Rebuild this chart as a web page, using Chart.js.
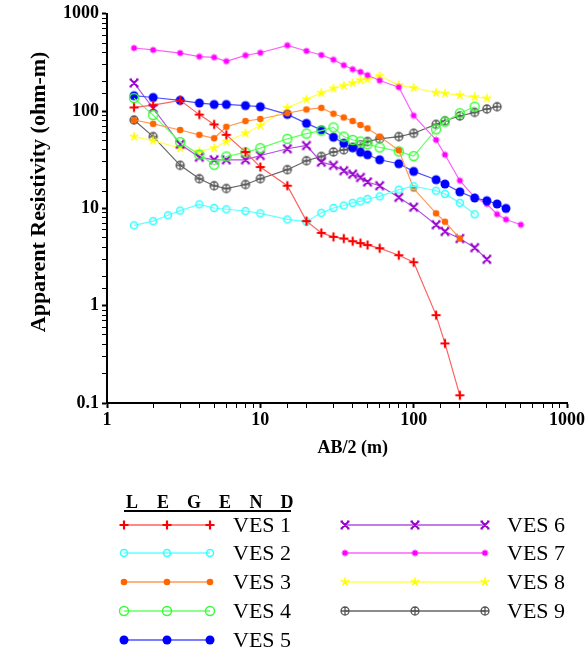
<!DOCTYPE html>
<html>
<head>
<meta charset="utf-8">
<script src="https://cdn.jsdelivr.net/npm/chart.js@4.4.0/dist/chart.umd.min.js"></script>
<style>
  html, body { margin: 0; padding: 0; background: #fff; }
  #wrap { width: 587px; height: 651px; position: relative; }
</style>
</head>
<body>
<div id="wrap"><canvas id="myChart"></canvas></div>
<script>
// AB/2 spacings (m) and apparent resistivity (ohm-m)
const ves1X = [1.5, 2, 3, 4, 5, 6, 8, 10, 15, 20, 25, 30, 35, 40, 45, 50, 60, 80, 100, 140, 160, 200];
const ves1Y = [109, 115, 129, 92, 73, 57, 38, 26.6, 17.1, 7.4, 5.6, 5.1, 4.9, 4.6, 4.4, 4.2, 3.9, 3.3, 2.8, 0.80, 0.41, 0.12];

const ves2X = [1.5, 2, 2.5, 3, 4, 5, 6, 8, 10, 15, 20, 25, 30, 35, 40, 45, 50, 60, 80, 100, 140, 160, 200, 250];
const ves2Y = [6.7, 7.4, 8.5, 9.5, 11, 10.1, 9.8, 9.4, 8.9, 7.7, 7.3, 9.0, 10.1, 10.7, 11.4, 11.8, 12.5, 13.3, 15.6, 16.9, 15.2, 14.1, 11.4, 8.7];

const ves3X = [1.5, 2, 3, 4, 5, 6, 8, 10, 15, 20, 25, 30, 35, 40, 45, 50, 60, 80, 100, 140, 160, 200];
const ves3Y = [81, 74, 64, 57, 52.6, 69, 79, 83, 95, 104, 108, 94, 86, 79, 72, 66.5, 54.7, 39.5, 16, 8.9, 7.3, 4.9];

const ves4X = [1.5, 2, 3, 4, 5, 6, 8, 10, 15, 20, 25, 30, 35, 40, 45, 50, 60, 80, 100, 140, 160, 200, 250];
const ves4Y = [136, 91, 48, 35.6, 28.1, 34.2, 37.6, 41.6, 51.9, 58.7, 63, 68, 54.7, 50.6, 48.7, 45.7, 42.3, 38.5, 34.5, 65, 78, 95, 111];

const ves5X = [1.5, 2, 3, 4, 5, 6, 8, 10, 15, 20, 25, 30, 35, 40, 45, 50, 60, 80, 100, 140, 160, 200, 250, 300, 350, 400];
const ves5Y = [144, 138, 129, 121, 117, 117, 114, 111, 92.5, 74.8, 64.1, 53.9, 46.8, 42.2, 37.8, 35.6, 31.6, 28.8, 24, 19.7, 17.8, 14.8, 12.8, 12.0, 11.1, 10.0];

const ves6X = [1.5, 2, 3, 4, 5, 6, 8, 10, 15, 20, 25, 30, 35, 40, 45, 50, 60, 80, 100, 140, 160, 200, 250, 300];
const ves6Y = [195, 107, 45.7, 33.6, 31.6, 31.6, 31.6, 35, 41, 44.3, 29.9, 27.7, 24.4, 22.5, 20.8, 18.7, 17.1, 13.0, 10.3, 6.8, 5.8, 4.9, 3.95, 3.0];

const ves7X = [1.5, 2, 3, 4, 5, 6, 8, 10, 15, 20, 25, 30, 35, 40, 45, 50, 60, 80, 100, 140, 160, 200, 250, 300, 350, 400, 500];
const ves7Y = [445, 425, 395, 363, 357, 325, 374, 398, 474, 415, 377, 338, 296, 269, 253, 234, 206, 176, 90, 50.6, 35.6, 19.3, 13.0, 11.1, 8.7, 7.7, 6.8];

const ves8X = [1.5, 2, 3, 4, 5, 6, 8, 10, 15, 20, 25, 30, 35, 40, 45, 50, 60, 80, 100, 140, 160, 200, 250, 300];
const ves8Y = [54.7, 49.8, 41.6, 38.5, 41.6, 48.7, 59.2, 71, 108, 132, 154, 171, 182, 195, 208, 213, 230, 185, 173, 155, 152, 146, 140, 135];

const ves9X = [1.5, 2, 3, 4, 5, 6, 8, 10, 15, 20, 25, 30, 35, 40, 45, 50, 60, 80, 100, 140, 160, 200, 250, 300, 350];
const ves9Y = [81, 54.7, 27.7, 20.2, 17.1, 16.0, 17.6, 20.2, 25, 30.9, 34.2, 38, 40, 42.2, 45, 48.7, 51.9, 54.7, 59.2, 73, 79.5, 89, 97, 105, 111];

const seriesNames = ['VES 1', 'VES 2', 'VES 3', 'VES 4', 'VES 5', 'VES 6', 'VES 7', 'VES 8', 'VES 9'];
const seriesX = [ves1X, ves2X, ves3X, ves4X, ves5X, ves6X, ves7X, ves8X, ves9X];
const seriesY = [ves1Y, ves2Y, ves3Y, ves4Y, ves5Y, ves6Y, ves7Y, ves8Y, ves9Y];
const markColors = ['#ff0000', '#33ffff', '#ff6600', '#33ff33', '#0000ff', '#9900cc', '#ff00ff', '#ffff00', '#555555'];
const lineColors = ['#ff6060', '#66ffff', '#ff9a55', '#66ff66', '#5050ff', '#b050e0', '#ff60ff', '#ffff55', '#666666'];
const markKinds = ['plus', 'ring', 'dot', 'bigRing', 'bigDot', 'ex', 'square', 'star', 'ringPlus'];

const serif = "'Liberation Serif', 'Times New Roman', serif";
Chart.defaults.font.family = serif;
Chart.defaults.color = '#000';

// little canvases used as point markers
const makeMarker = (kind, color) => {
  const s = 12;
  const c = document.createElement('canvas');
  c.width = s; c.height = s;
  const g = c.getContext('2d');
  const m = s / 2;
  g.strokeStyle = color;
  g.fillStyle = color;
  g.lineWidth = 2;
  g.beginPath();
  if (kind === 'plus') {
    g.lineWidth = 2.2;
    g.moveTo(m - 4.5, m); g.lineTo(m + 4.5, m);
    g.moveTo(m, m - 4.5); g.lineTo(m, m + 4.5);
    g.stroke();
  } else if (kind === 'ring') {
    g.lineWidth = 1.5;
    g.arc(m, m, 3.5, 0, Math.PI * 2);
    g.stroke();
  } else if (kind === 'dot') {
    g.arc(m, m, 3.3, 0, Math.PI * 2);
    g.fill();
  } else if (kind === 'bigRing') {
    g.lineWidth = 1.4;
    g.arc(m, m, 4.5, 0, Math.PI * 2);
    g.stroke();
  } else if (kind === 'bigDot') {
    g.arc(m, m, 4.5, 0, Math.PI * 2);
    g.fill();
  } else if (kind === 'ex') {
    g.lineWidth = 2;
    g.moveTo(m - 3.5, m - 3.5); g.lineTo(m + 3.5, m + 3.5);
    g.moveTo(m + 3.5, m - 3.5); g.lineTo(m - 3.5, m + 3.5);
    g.moveTo(m - 4.5, m - 3.5); g.lineTo(m - 2, m - 3.5);
    g.moveTo(m + 2, m - 3.5); g.lineTo(m + 4.5, m - 3.5);
    g.moveTo(m - 4.5, m + 3.5); g.lineTo(m - 2, m + 3.5);
    g.moveTo(m + 2, m + 3.5); g.lineTo(m + 4.5, m + 3.5);
    g.stroke();
  } else if (kind === 'square') {
    g.fillRect(m - 2.5, m - 2.5, 5, 5);
    g.lineWidth = 1;
    g.globalAlpha = 0.5;
    g.moveTo(m - 4, m); g.lineTo(m + 4, m);
    g.moveTo(m, m - 4); g.lineTo(m, m + 4);
    g.stroke();
  } else if (kind === 'star') {
    g.lineWidth = 1.6;
    for (let i = 0; i < 5; i++) {
      const a = -Math.PI / 2 + i * 2 * Math.PI / 5;
      g.moveTo(m, m);
      g.lineTo(m + 4.5 * Math.cos(a), m + 4.5 * Math.sin(a));
    }
    g.stroke();
    g.beginPath();
    g.arc(m, m, 1.8, 0, Math.PI * 2);
    g.fill();
  } else if (kind === 'ringPlus') {
    g.lineWidth = 1.3;
    g.arc(m, m, 4, 0, Math.PI * 2);
    g.moveTo(m - 4, m); g.lineTo(m + 4, m);
    g.moveTo(m, m - 4); g.lineTo(m, m + 4);
    g.stroke();
  }
  return c;
};

const markers = markKinds.map((k, i) => makeMarker(k, markColors[i]));

const datasets = seriesNames.map((name, i) => ({
  label: name,
  data: seriesX[i].map((x, j) => ({ x: x, y: seriesY[i][j] })),
  borderColor: lineColors[i],
  backgroundColor: markColors[i],
  borderWidth: 1.2,
  pointStyle: markers[i],
  pointRadius: 4,
  tension: 0,
  fill: false
}));

const isDecade = (v) => {
  const l = Math.log10(v);
  return Math.abs(l - Math.round(l)) < 1e-6;
};

// hand-drawn legend in two columns under the plot
const legendBlock = {
  id: 'legendBlock',
  afterDraw(chart) {
    const ctx = chart.ctx;
    ctx.save();
    ctx.fillStyle = '#000';
    ctx.font = "bold 18px " + serif;
    ctx.textBaseline = 'alphabetic';
    const letters = 'LEGEND'.split('');
    letters.forEach((ch, k) => {
      ctx.textAlign = 'center';
      ctx.fillText(ch, 132 + k * 31, 508);
    });
    ctx.fillRect(124, 510, 167, 2);

    const rows = [525, 553, 582, 611, 640];
    chart.data.datasets.forEach((ds, i) => {
      const left = i < 5;
      const y = left ? rows[i] : rows[i - 5];
      const xs = left ? [124, 167, 210] : [345, 415, 485];
      const tx = left ? 233 : 507;
      ctx.strokeStyle = ds.borderColor;
      ctx.lineWidth = 1.4;
      ctx.beginPath();
      ctx.moveTo(xs[0], y);
      ctx.lineTo(xs[2], y);
      ctx.stroke();
      xs.forEach((mx) => {
        ctx.drawImage(ds.pointStyle, mx - ds.pointStyle.width / 2, y - ds.pointStyle.height / 2);
      });
      ctx.fillStyle = '#000';
      ctx.font = "22px " + serif;
      ctx.textAlign = 'left';
      ctx.textBaseline = 'middle';
      ctx.fillText(ds.label, tx, y + 1);
    });
    ctx.restore();
  }
};

new Chart(document.getElementById('myChart'), {
  type: 'line',
  data: { datasets: datasets },
  plugins: [legendBlock],
  options: {
    responsive: true,
    maintainAspectRatio: false,
    animation: false,
    layout: { padding: { top: 12, right: 16, bottom: 188, left: 0 } },
    plugins: {
      legend: { display: false },
      tooltip: { enabled: false }
    },
    scales: {
      x: {
        type: 'logarithmic',
        min: 1,
        max: 1000,
        border: { color: '#000', width: 2 },
        grid: {
          drawOnChartArea: false,
          tickLength: 5,
          tickColor: '#000',
          tickWidth: (c) => (c.tick && isDecade(c.tick.value) ? 2 : 1)
        },
        ticks: {
          autoSkip: false,
          maxRotation: 0,
          padding: 2,
          font: { size: 18, weight: 'bold' },
          callback: (v) => (isDecade(v) ? String(v) : '')
        },
        title: {
          display: true,
          // leading spaces nudge the title right, as in the source figure
          text: '\u00a0\u00a0\u00a0\u00a0\u00a0\u00a0\u00a0AB/2 (m)',
          font: { size: 18, weight: 'bold' },
          padding: { top: 0 }
        },
        afterFit: (scale) => { scale.height = 60; }
      },
      y: {
        type: 'logarithmic',
        min: 0.1,
        max: 1000,
        border: { color: '#000', width: 2 },
        grid: {
          drawOnChartArea: false,
          tickLength: 5,
          tickColor: '#000',
          tickWidth: (c) => (c.tick && isDecade(c.tick.value) ? 2 : 1)
        },
        ticks: {
          autoSkip: false,
          padding: 3,
          font: { size: 18, weight: 'bold' },
          callback: (v) => (isDecade(v) ? String(v) : '')
        },
        title: {
          display: true,
          text: '\u00a0\u00a0\u00a0\u00a0\u00a0\u00a0Apparent Resistivity (ohm-m)',
          font: { size: 22, weight: 'bold' },
          padding: { top: 26, bottom: 0 }
        },
        afterFit: (scale) => { scale.width = 107; }
      }
    }
  }
});
</script>
</body>
</html>
